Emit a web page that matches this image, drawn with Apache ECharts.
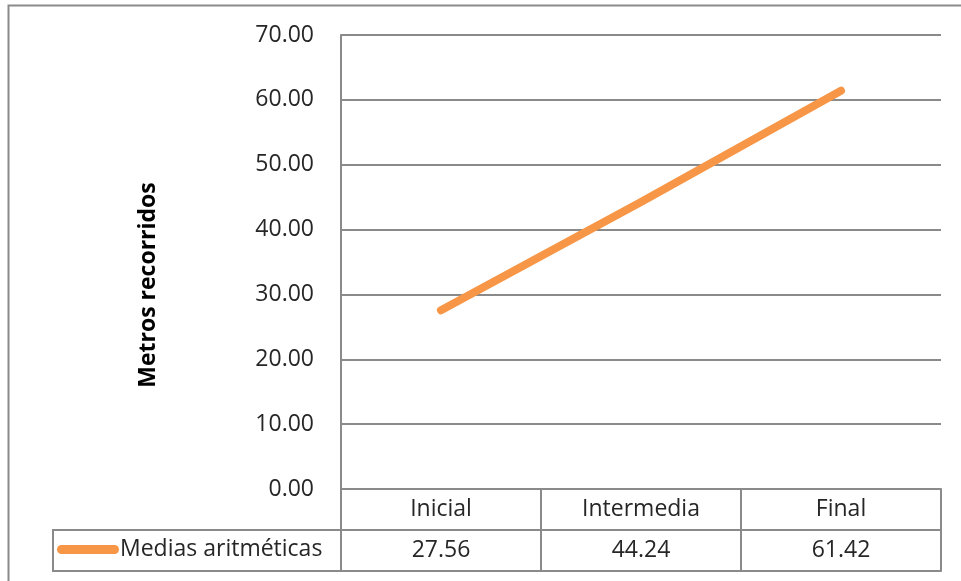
<!DOCTYPE html>
<html>
<head>
<meta charset="utf-8">
<script src="https://cdn.jsdelivr.net/npm/echarts@6/dist/echarts.min.js"></script>
<style>
  html, body { margin: 0; padding: 0; background: #ffffff; }
  #chart { width: 961px; height: 581px; }
</style>
</head>
<body>
<div id="chart"></div>
<script>
// Stages of the measurement and their arithmetic means (metres covered)
const categories = ['Inicial', 'Intermedia', 'Final'];
const seriesName = 'Medias aritméticas';
const means = [27.56, 44.24, 61.42];
const yTicks = { min: 0, max: 70, step: 10 };
const axisTitle = 'Metros recorridos';

const FONT = '"Open Sans", Lato, sans-serif';
const TEXT = '#262626';
const RULE = '#8a8a8a';
const SIZE = 23;

const chart = echarts.init(document.getElementById('chart'), null, { renderer: 'canvas' });

chart.setOption({
  animation: false,
  backgroundColor: '#ffffff',
  textStyle: { fontFamily: FONT },
  grid: { left: 341, right: 20, top: 35, bottom: 92, containLabel: false },
  legend: {
    data: [seriesName],
    left: 57,
    top: 538,
    padding: 0,
    itemWidth: 62,
    itemHeight: 9,
    icon: 'path://M4.5,0 L57.5,0 A4.5,4.5 0 0 1 57.5,9 L4.5,9 A4.5,4.5 0 0 1 4.5,0 Z',
    textStyle: { fontFamily: FONT, fontSize: SIZE, color: TEXT, padding: [0, 0, 0, -4] }
  },
  xAxis: [
    {
      type: 'category',
      data: categories,
      position: 'bottom',
      boundaryGap: true,
      axisLine: { show: true, lineStyle: { color: RULE, width: 2 } },
      axisTick: { show: true, interval: 0, alignWithLabel: false, length: 82, lineStyle: { color: RULE, width: 2 } },
      axisLabel: { interval: 0, margin: 9, fontFamily: FONT, fontSize: SIZE, color: TEXT }
    },
    {
      type: 'category',
      data: means.map(v => v.toFixed(2)),
      position: 'bottom',
      offset: 41,
      boundaryGap: true,
      axisLine: { show: true, lineStyle: { color: RULE, width: 2 } },
      axisTick: { show: false },
      axisLabel: { interval: 0, margin: 9, fontFamily: FONT, fontSize: SIZE, color: TEXT }
    },
    {
      type: 'category',
      data: categories,
      position: 'bottom',
      offset: 82,
      boundaryGap: true,
      axisLine: { show: true, lineStyle: { color: RULE, width: 2 } },
      axisTick: { show: false },
      axisLabel: { show: false }
    }
  ],
  yAxis: {
    type: 'value',
    min: yTicks.min,
    max: yTicks.max,
    interval: yTicks.step,
    axisLine: { show: true, lineStyle: { color: RULE, width: 2 } },
    axisTick: { show: false },
    splitLine: { show: true, lineStyle: { color: RULE, width: 2 } },
    axisLabel: {
      margin: 27,
      fontFamily: FONT,
      fontSize: SIZE,
      color: TEXT,
      formatter: v => v.toFixed(2)
    }
  },
  series: [
    {
      name: seriesName,
      type: 'line',
      xAxisIndex: 0,
      data: means,
      symbol: 'none',
      lineStyle: { color: '#F79646', width: 8, cap: 'round' },
      itemStyle: { color: '#F79646' }
    }
  ],
  graphic: [
    {
      type: 'rect',
      shape: { x: 8.5, y: 5.5, width: 1000, height: 1000 },
      style: { fill: 'none', stroke: RULE, lineWidth: 2 },
      silent: true
    },
    {
      type: 'polyline',
      shape: { points: [[341, 530], [53, 530], [53, 571], [341, 571]] },
      style: { fill: 'none', stroke: RULE, lineWidth: 2 },
      silent: true
    },
    {
      type: 'text',
      x: 148,
      y: 285,
      rotation: Math.PI / 2,
      style: {
        text: axisTitle,
        fontFamily: FONT,
        fontSize: 23,
        fontWeight: 'bold',
        fill: '#000000',
        textAlign: 'center',
        textVerticalAlign: 'middle'
      },
      silent: true
    }
  ]
});
</script>
</body>
</html>
